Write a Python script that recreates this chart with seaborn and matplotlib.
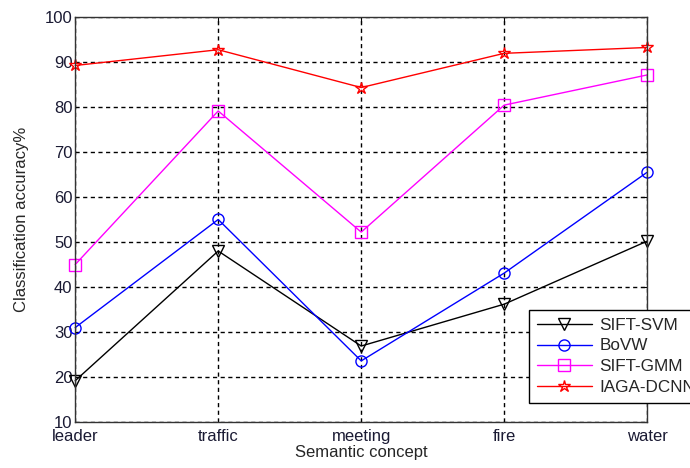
import pandas as pd
import matplotlib
matplotlib.use('Agg')
import matplotlib.pyplot as plt
import seaborn as sns

# Values
concepts = ['leader', 'traffic', 'meeting', 'fire', 'water']
sift_svm = [19.2, 48.0, 26.9, 36.2, 50.2]
bovw = [31.0, 55.0, 23.6, 43.1, 65.5]
sift_gmm = [45.0, 79.1, 52.2, 80.4, 87.1]
iaga_dcnn = [89.2, 92.7, 84.3, 91.9, 93.2]

series_names = ['SIFT-SVM', 'BoVW', 'SIFT-GMM', 'IAGA-DCNN']
series_values = [sift_svm, bovw, sift_gmm, iaga_dcnn]
colors = ['#000000', '#0000ff', '#ff00ff', '#ff0000']
markers = ['v', 'o', 's', '*']


def main():
    sns.set_style('white')
    plt.rcParams['font.family'] = ['Liberation Sans', 'DejaVu Sans']

    fig = plt.figure(figsize=(6.9, 4.68), dpi=100)
    ax = fig.add_axes([0.109, 0.098, 0.829, 0.866])

    x_pos = list(range(len(concepts)))
    for name, vals, c, m in zip(series_names, series_values, colors, markers):
        df = pd.DataFrame({'x': x_pos, 'y': vals})
        sns.lineplot(data=df, x='x', y='y', ax=ax, label=name, color=c,
                     marker=m, markersize=9 if m == '*' else 8,
                     markerfacecolor='none', markeredgecolor=c,
                     markeredgewidth=1.0, linewidth=1.0)
    for line in ax.lines:
        line.set_clip_on(False)

    ax.set_xlim(0, 4)
    ax.set_ylim(10, 100)
    ax.set_xticks(x_pos)
    ax.set_xticklabels(concepts)
    ax.set_yticks(range(10, 101, 10))

    ax.grid(True, color='black', linestyle=(0, (3, 2.5)), linewidth=1.0)
    ax.tick_params(direction='in', top=True, right=True, length=4,
                   labelsize=12, colors='black', labelcolor='#1a1a33')
    ax.tick_params(axis='x', pad=5)
    ax.tick_params(axis='y', pad=2)
    for s in ax.spines.values():
        s.set_color('#333333')
        s.set_linewidth(1.0)

    ax.set_xlabel('Semantic concept', fontsize=12, labelpad=1)
    ax.set_ylabel('Classification accuracy%', fontsize=12, labelpad=11)

    leg = ax.legend(loc='upper left', bbox_to_anchor=(0.767, 0.338),
                    bbox_transform=fig.transFigure, fontsize=12.3,
                    frameon=True, fancybox=False, framealpha=1,
                    edgecolor='black', handlelength=3.2, handletextpad=0.45,
                    labelspacing=0.35, borderpad=0.45, borderaxespad=0)
    leg.get_frame().set_linewidth(1.0)

    fig.savefig('out.png', dpi=100)


if __name__ == "__main__":
    main()
